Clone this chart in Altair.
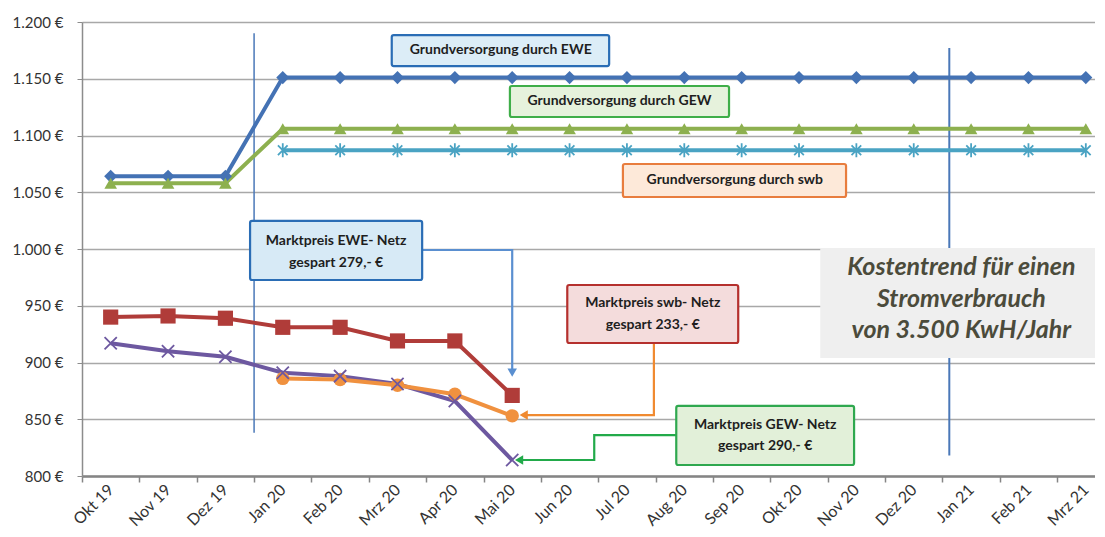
import json
import altair as alt
import pandas as pd

# ---------------- data ----------------
months = ["Okt 19", "Nov 19", "Dez 19", "Jan 20", "Feb 20", "Mrz 20", "Apr 20", "Mai 20",
          "Jun 20", "Jul 20", "Aug 20", "Sep 20", "Okt 20", "Nov 20", "Dez 20",
          "Jan 21", "Feb 21", "Mrz 21"]

grund_ewe = [1064, 1064, 1064, 1151, 1151, 1151, 1151, 1151, 1151, 1151, 1151, 1151,
             1151, 1151, 1151, 1151, 1151, 1151]
grund_gew = [1058, 1058, 1058, 1106, 1106, 1106, 1106, 1106, 1106, 1106, 1106, 1106,
             1106, 1106, 1106, 1106, 1106, 1106]
grund_swb = [None, None, None, 1087, 1087, 1087, 1087, 1087, 1087, 1087, 1087, 1087,
             1087, 1087, 1087, 1087, 1087, 1087]
markt_ewe = [940, 941, 939, 931, 931, 919, 919, 871]
markt_gew = [917, 910, 905, 891, 888, 881, 866, 814]
markt_swb = [None, None, None, 886, 885, 880, 872, 853]

y_ticks = [800, 850, 900, 950, 1000, 1050, 1100, 1150, 1200]

series = [
    ("grund_ewe", grund_ewe, "#4472b4", "diamond", 170, True),
    ("grund_gew", grund_gew, "#8db04f", "triangle-up", 160, True),
    ("grund_swb", grund_swb, "#4aa3c3",
     "M-0.7,-0.7L0.7,0.7M-0.7,0.7L0.7,-0.7M0,-1L0,1", 190, False),
    ("markt_ewe", markt_ewe, "#b03c39", "square", 230, True),
    ("markt_gew", markt_gew, "#6d58a0", "M-1,-1L1,1M-1,1L1,-1", 150, False),
    ("markt_swb", markt_swb, "#f0913f", "circle", 180, True),
]

rows = []
for name, vals, color, shape, size, filled in series:
    for i, v in enumerate(vals):
        if v is not None:
            rows.append({"i": i, "v": v, "s": name, "color": color, "shape": shape,
                         "size": size, "filled": filled})
df = pd.DataFrame(rows)

# annotations (data coordinates); ty = position of the first text line
boxes = pd.DataFrame([
    {"x1": 4.9, "x2": 8.69, "y1": 1188.5, "y2": 1161.2, "fill": "#dcedf7", "stroke": "#2a6db5",
     "tx": 6.80, "ty": 1174.9, "t": "Grundversorgung durch EWE"},
    {"x1": 6.96, "x2": 10.78, "y1": 1143.6, "y2": 1116.3, "fill": "#e6f2dc", "stroke": "#3fae49",
     "tx": 8.87, "ty": 1130.0, "t": "Grundversorgung durch GEW"},
    {"x1": 8.93, "x2": 12.82, "y1": 1074.9, "y2": 1045.8, "fill": "#fde9d9", "stroke": "#e87d3e",
     "tx": 10.88, "ty": 1060.4, "t": "Grundversorgung durch swb"},
    {"x1": 2.43, "x2": 5.43, "y1": 1024.7, "y2": 972.7, "fill": "#d7eaf6", "stroke": "#2a6db5",
     "tx": 3.93, "ty": 1007.0, "t": "Marktpreis EWE- Netz\ngespart 279,- €"},
    {"x1": 7.96, "x2": 10.94, "y1": 968.3, "y2": 917.2, "fill": "#f4dcdc", "stroke": "#b5302d",
     "tx": 9.45, "ty": 952.0, "t": "Marktpreis swb- Netz\ngespart 233,- €"},
    {"x1": 9.86, "x2": 12.96, "y1": 861.7, "y2": 809.7, "fill": "#e2f0d9", "stroke": "#2fa84f",
     "tx": 11.41, "ty": 845.0, "t": "Marktpreis GEW- Netz\ngespart 290,- €"},
])

title_box = pd.DataFrame([{"x1": 12.37, "x2": 17.16, "y1": 1000.9, "y2": 904.0,
                           "tx": 14.83, "ty": 984.0,
                           "t": "Kostentrend für einen\nStromverbrauch\nvon 3.500 KwH/Jahr"}])

vlines = pd.DataFrame([
    {"x": 2.5, "y1": 1190, "y2": 838, "w": 1.5},
    {"x": 14.62, "y1": 1177, "y2": 818, "w": 2.0},
])

connectors = pd.DataFrame([
    {"p": "a", "k": 0, "x": 5.43, "y": 999.1, "c": "#5a8fd0"},
    {"p": "a", "k": 1, "x": 7.0, "y": 999.1, "c": "#5a8fd0"},
    {"p": "a", "k": 2, "x": 7.0, "y": 893.0, "c": "#5a8fd0"},
    {"p": "b", "k": 0, "x": 9.47, "y": 917.2, "c": "#f08a30"},
    {"p": "b", "k": 1, "x": 9.47, "y": 853.7, "c": "#f08a30"},
    {"p": "b", "k": 2, "x": 7.25, "y": 853.7, "c": "#f08a30"},
    {"p": "c", "k": 0, "x": 9.86, "y": 836.1, "c": "#22aa4a"},
    {"p": "c", "k": 1, "x": 8.43, "y": 836.1, "c": "#22aa4a"},
    {"p": "c", "k": 2, "x": 8.43, "y": 814.1, "c": "#22aa4a"},
    {"p": "c", "k": 3, "x": 7.17, "y": 814.1, "c": "#22aa4a"},
])
arrowheads = pd.DataFrame([
    {"x": 7.0, "y": 891.0, "shape": "triangle-down", "c": "#5a8fd0"},
    {"x": 7.2, "y": 853.7, "shape": "triangle-left", "c": "#f08a30"},
    {"x": 7.12, "y": 814.1, "shape": "triangle-left", "c": "#22aa4a"},
])

# ---------------- encodings ----------------
XMAX = 17.16
x_values = [k / 2 for k in range(-1, 35)]
label_expr = ("(datum.value % 1 === 0 && datum.value >= 0) ? " + json.dumps(months) +
              "[datum.value] : ''")

x_axis = alt.Axis(values=x_values, labelExpr=label_expr, grid=False, title=None,
                  labelAngle=-45, labelAlign="right", labelBaseline="middle",
                  labelFont="Lato", labelFontSize=16, labelColor="#333333",
                  labelOverlap=False, labelBound=False, labelPadding=5,
                  domainColor="#858585", domainWidth=2.5,
                  tickColor="#858585", tickWidth=1.5, tickSize=6,
                  tickOpacity={"condition": {"test": "datum.value % 1 !== 0", "value": 1},
                               "value": 0})
y_axis = alt.Axis(values=y_ticks, title=None, grid=True, gridColor="#a8a8a8", gridWidth=1.5,
                  labelExpr="replace(format(datum.value, ',.0f'), ',', '.') + ' €'",
                  labelFont="Lato", labelFontSize=15, labelColor="#333333", labelPadding=14,
                  domainColor="#8c8c8c", domainWidth=1.5, tickColor="#8c8c8c", tickSize=5,
                  minExtent=74, maxExtent=74)
x_scale = alt.Scale(domain=[-0.5, XMAX], nice=False, zero=False)
y_scale = alt.Scale(domain=[800, 1200], nice=False, zero=False)


def X(f):
    return alt.X(f"{f}:Q", scale=x_scale, axis=x_axis)


def Y(f):
    return alt.Y(f"{f}:Q", scale=y_scale, axis=y_axis)


vline_layer = alt.Chart(vlines).mark_rule(color="#4a78b8").encode(
    x=X("x"), y=Y("y1"), y2="y2:Q", strokeWidth=alt.StrokeWidth("w:Q", scale=None))

line_layer = alt.Chart(df).mark_line(strokeWidth=4).encode(
    x=X("i"), y=Y("v"), detail="s:N", color=alt.Color("color:N", scale=None))

filled_pts = alt.Chart(df[df["filled"]]).mark_point(filled=True, opacity=1).encode(
    x=X("i"), y=Y("v"),
    color=alt.Color("color:N", scale=None),
    shape=alt.Shape("shape:N", scale=None),
    size=alt.Size("size:Q", scale=None))

stroked_pts = alt.Chart(df[~df["filled"]]).mark_point(filled=False, opacity=1,
                                                       strokeWidth=1.8).encode(
    x=X("i"), y=Y("v"),
    color=alt.Color("color:N", scale=None),
    shape=alt.Shape("shape:N", scale=None),
    size=alt.Size("size:Q", scale=None))

conn_layer = alt.Chart(connectors).mark_line(strokeWidth=2.2).encode(
    x=X("x"), y=Y("y"), detail="p:N", order=alt.Order("k:Q"),
    color=alt.Color("c:N", scale=None))

arrow_layer = alt.Chart(arrowheads).mark_point(filled=True, opacity=1, size=90).encode(
    x=X("x"), y=Y("y"), shape=alt.Shape("shape:N", scale=None),
    color=alt.Color("c:N", scale=None))

box_layer = alt.Chart(boxes).mark_rect(strokeWidth=2.2, cornerRadius=2).encode(
    x=X("x1"), x2="x2:Q", y=Y("y1"), y2="y2:Q",
    fill=alt.Fill("fill:N", scale=None), stroke=alt.Stroke("stroke:N", scale=None))

box_text = alt.Chart(boxes).mark_text(font="Lato", fontWeight="bold", fontSize=14,
                                      lineBreak="\n", lineHeight=21.5, color="#1e1e1e",
                                      align="center", baseline="middle").encode(
    x=X("tx"), y=Y("ty"), text="t:N")

title_rect = alt.Chart(title_box).mark_rect(color="#efefef").encode(
    x=X("x1"), x2="x2:Q", y=Y("y1"), y2="y2:Q")

title_text = alt.Chart(title_box).mark_text(font="Lato", fontWeight="bold", fontStyle="italic",
                                            fontSize=25, lineBreak="\n", lineHeight=31.5,
                                            color="#4b4b3b", align="center",
                                            baseline="middle").encode(
    x=X("tx"), y=Y("ty"), text="t:N")

chart = alt.layer(
    vline_layer, title_rect, title_text, line_layer, filled_pts, stroked_pts,
    conn_layer, arrow_layer, box_layer, box_text,
).properties(
    width=1013, height=454,
    padding={"left": 0, "top": 7, "right": 0, "bottom": 0},
    background="white",
).configure_view(stroke=None)

chart.save("out.html", embed_options={"renderer": "svg", "actions": False})
